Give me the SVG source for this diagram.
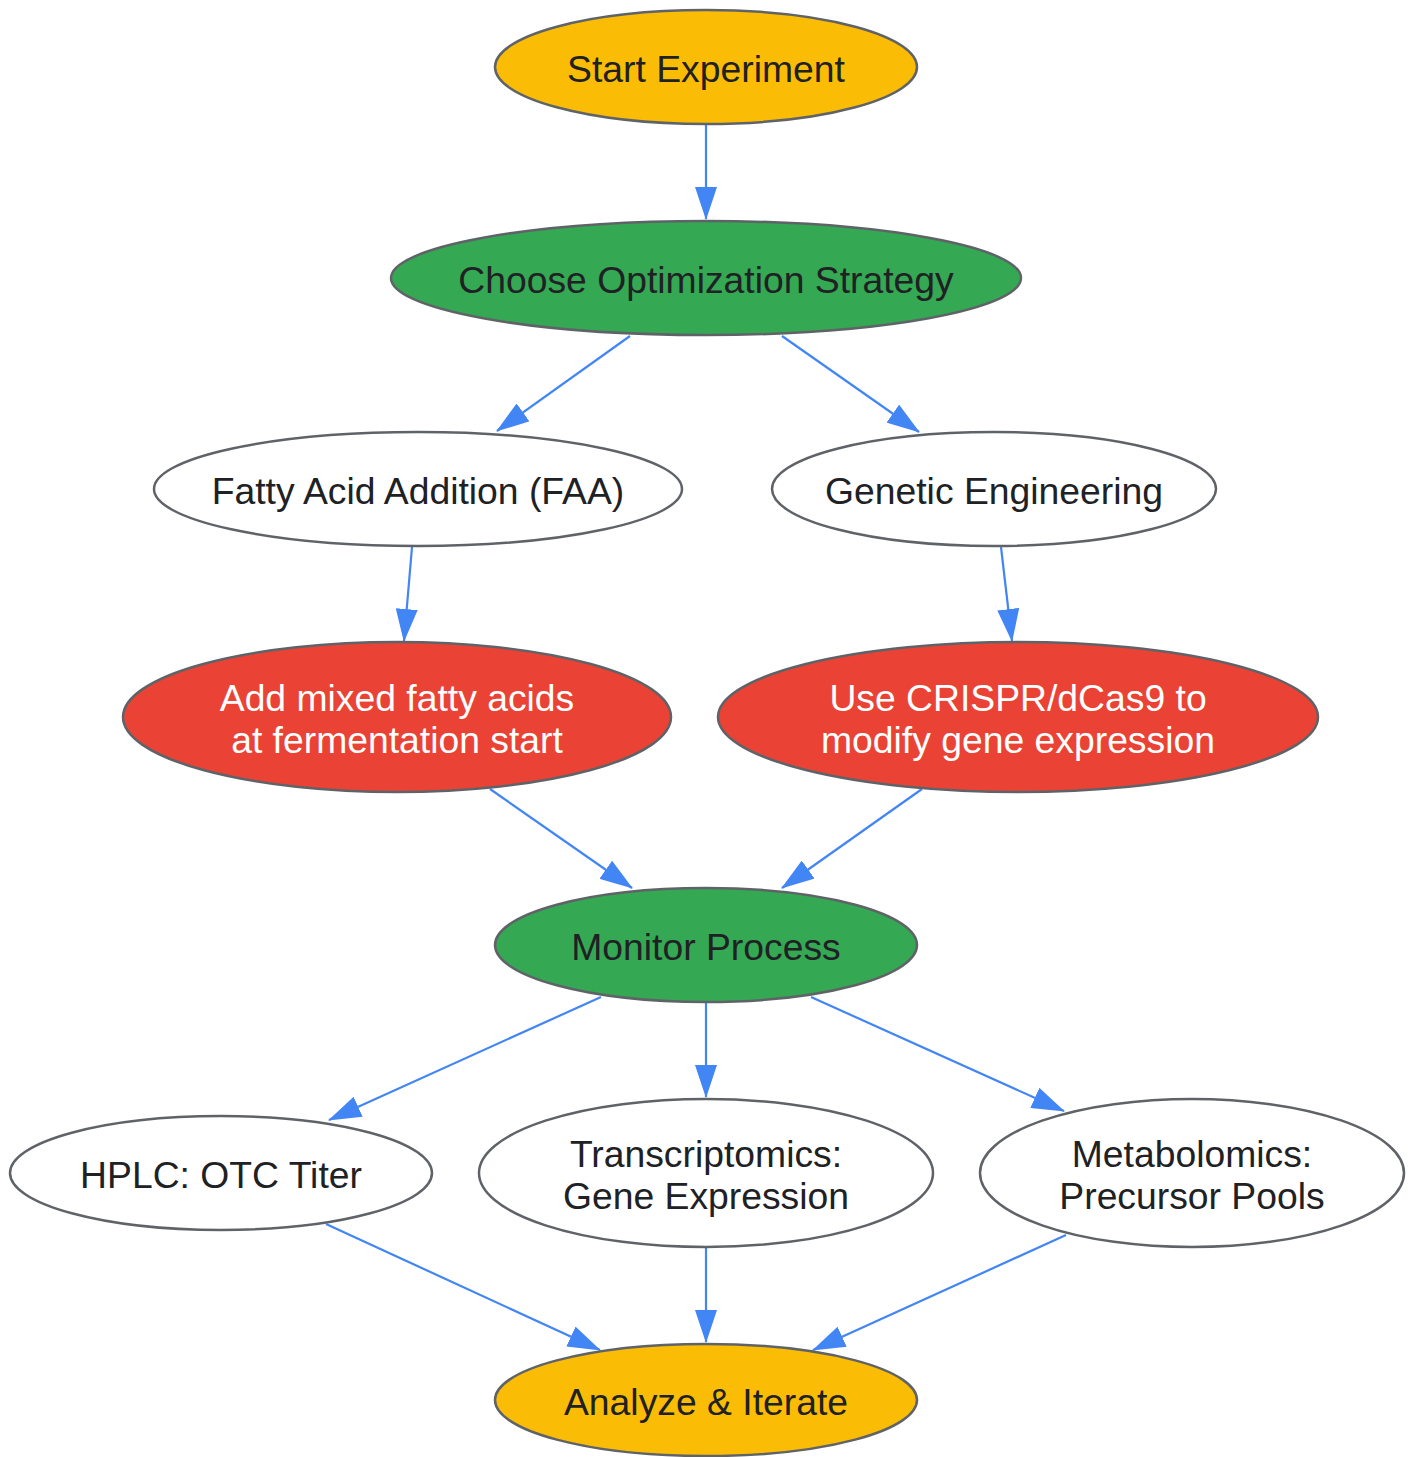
<svg xmlns="http://www.w3.org/2000/svg" width="1412" height="1457" viewBox="0 0 1412 1457">
<defs>
<style>
.n ellipse{stroke:#5f6368;stroke-width:2.5}
.y ellipse{fill:#fbbc05}
.g ellipse{fill:#34a853}
.r ellipse{fill:#ea4335}
.w ellipse{fill:#ffffff}
text{font-family:"Liberation Sans",Arial,sans-serif;font-size:37.3px;text-anchor:middle;fill:#202124}
.r text{fill:#ffffff}
#edges line{stroke:#4285f4;stroke-width:2.2;marker-end:url(#ah)}
</style>
<marker id="ah" viewBox="0 0 33 22" refX="32" refY="11" markerWidth="33" markerHeight="22" orient="auto" markerUnits="userSpaceOnUse">
<path d="M0,0 L33,11 L0,22 Z" fill="#4285f4"/>
</marker>
</defs>
<rect width="1412" height="1457" fill="#ffffff"/>
<g id="edges">
<line x1="706" y1="125" x2="706" y2="219"/>
<line x1="630" y1="336" x2="497" y2="431"/>
<line x1="782" y1="336" x2="919" y2="432"/>
<line x1="412" y1="547" x2="404" y2="641"/>
<line x1="1001" y1="547" x2="1012" y2="641"/>
<line x1="490" y1="789" x2="632" y2="888"/>
<line x1="922" y1="789" x2="782" y2="888"/>
<line x1="601" y1="997" x2="329" y2="1120"/>
<line x1="706" y1="1003" x2="706" y2="1097"/>
<line x1="811" y1="997" x2="1064" y2="1111"/>
<line x1="326" y1="1224" x2="600" y2="1350"/>
<line x1="706" y1="1248" x2="706" y2="1342"/>
<line x1="1066" y1="1235" x2="813" y2="1350"/>
</g>
<g id="start" class="n y"><ellipse cx="706" cy="67" rx="211" ry="57"/><text x="706" y="82">Start Experiment</text></g>
<g id="choose" class="n g"><ellipse cx="706" cy="278" rx="315" ry="57"/><text x="706" y="293">Choose Optimization Strategy</text></g>
<g id="faa" class="n w"><ellipse cx="418" cy="489" rx="264" ry="57"/><text x="418" y="504">Fatty Acid Addition (FAA)</text></g>
<g id="genetic" class="n w"><ellipse cx="994" cy="489" rx="222" ry="57"/><text x="994" y="504">Genetic Engineering</text></g>
<g id="addfa" class="n r"><ellipse cx="397" cy="717" rx="274" ry="75"/><text x="397" y="711">Add mixed fatty acids</text><text x="397" y="753">at fermentation start</text></g>
<g id="crispr" class="n r"><ellipse cx="1018" cy="717" rx="300" ry="75"/><text x="1018" y="711">Use CRISPR/dCas9 to</text><text x="1018" y="753">modify gene expression</text></g>
<g id="monitor" class="n g"><ellipse cx="706" cy="945" rx="211" ry="57"/><text x="706" y="960">Monitor Process</text></g>
<g id="hplc" class="n w"><ellipse cx="221" cy="1173" rx="211" ry="57"/><text x="221" y="1188">HPLC: OTC Titer</text></g>
<g id="trans" class="n w"><ellipse cx="706" cy="1173" rx="227" ry="74"/><text x="706" y="1167">Transcriptomics:</text><text x="706" y="1209">Gene Expression</text></g>
<g id="metab" class="n w"><ellipse cx="1192" cy="1173" rx="212" ry="74"/><text x="1192" y="1167">Metabolomics:</text><text x="1192" y="1209">Precursor Pools</text></g>
<g id="analyze" class="n y"><ellipse cx="706" cy="1400" rx="211" ry="56"/><text x="706" y="1415">Analyze &amp; Iterate</text></g>
</svg>
